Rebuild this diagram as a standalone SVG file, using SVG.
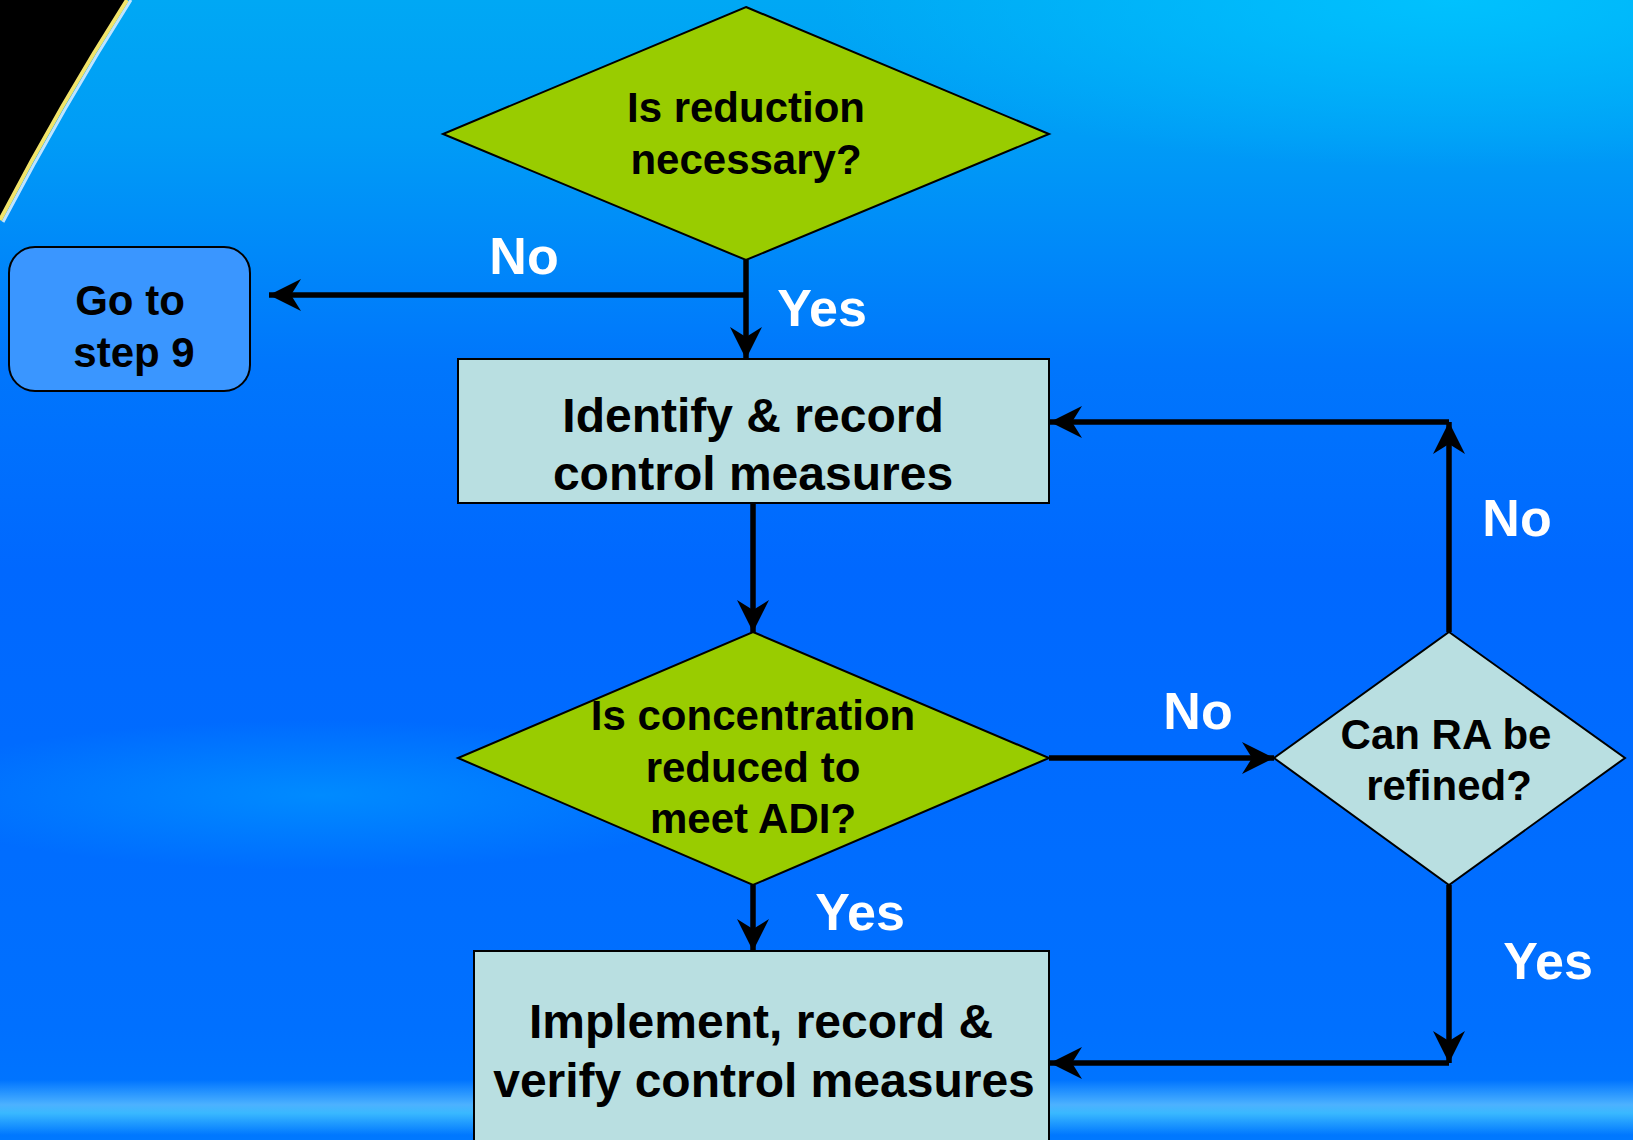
<svg xmlns="http://www.w3.org/2000/svg" width="1633" height="1140" viewBox="0 0 1633 1140">
  <defs>
    <linearGradient id="bg" x1="0" y1="0" x2="0" y2="1">
      <stop offset="0" stop-color="#00A8F4"/>
      <stop offset="0.12" stop-color="#009CF6"/>
      <stop offset="0.32" stop-color="#0076FC"/>
      <stop offset="0.5" stop-color="#0068FF"/>
      <stop offset="0.9" stop-color="#0070FF"/>
      <stop offset="1" stop-color="#0078FF"/>
    </linearGradient>
    <radialGradient id="glowTR" cx="1450" cy="0" r="420" gradientUnits="userSpaceOnUse" gradientTransform="translate(1450 0) scale(1.5 0.4) translate(-1450 0)">
      <stop offset="0" stop-color="#00C4FF" stop-opacity="0.9"/>
      <stop offset="1" stop-color="#00C4FF" stop-opacity="0"/>
    </radialGradient>
    <radialGradient id="glowL" cx="320" cy="795" r="300" gradientUnits="userSpaceOnUse" gradientTransform="translate(320 795) scale(1.4 0.25) translate(-320 -795)">
      <stop offset="0" stop-color="#00A4FF" stop-opacity="0.55"/>
      <stop offset="1" stop-color="#00A4FF" stop-opacity="0"/>
    </radialGradient>
    <linearGradient id="band" x1="0" y1="0" x2="0" y2="1">
      <stop offset="0" stop-color="#55BBFF" stop-opacity="0"/>
      <stop offset="0.45" stop-color="#55B8FF" stop-opacity="0.9"/>
      <stop offset="0.6" stop-color="#40C0FF" stop-opacity="0.9"/>
      <stop offset="1" stop-color="#40C0FF" stop-opacity="0"/>
    </linearGradient>
    <marker id="arr" markerUnits="userSpaceOnUse" viewBox="0 0 32 32" markerWidth="32" markerHeight="32" refX="32" refY="16" orient="auto">
      <path d="M0,0 L32,16 L0,32 L10,16 Z" fill="#000"/>
    </marker>
    <style>
      .conn { fill: none; stroke: #000; stroke-width: 5.5; marker-end: url(#arr); }
      .dg { fill: #99CC00; stroke: #000; stroke-width: 2; }
      .dc { fill: #B9DFE1; stroke: #000; stroke-width: 2; }
      .bx { fill: #B9DFE1; stroke: #000; stroke-width: 2; }
      .go { fill: #3A96FF; stroke: #000; stroke-width: 2; }
      .t42 { font-family: "Liberation Sans", Arial, sans-serif; font-weight: bold; font-size: 42px; fill: #000; text-anchor: middle; }
      .t48 { font-family: "Liberation Sans", Arial, sans-serif; font-weight: bold; font-size: 48px; fill: #000; text-anchor: middle; }
      .lbl { font-family: "Liberation Sans", Arial, sans-serif; font-weight: bold; font-size: 52px; fill: #FFF; text-anchor: middle; }
    </style>
  </defs>

  <!-- background -->
  <rect x="0" y="0" width="1633" height="1140" fill="url(#bg)"/>
  <rect x="0" y="0" width="1633" height="500" fill="url(#glowTR)"/>
  <rect x="0" y="650" width="900" height="300" fill="url(#glowL)"/>
  <rect x="0" y="1080" width="1633" height="55" fill="url(#band)"/>
  <path d="M0,0 H127 Q60,105 0,220 Z" fill="#000"/>
  <path d="M131,0 Q64,106 3,222" fill="none" stroke="#BFE4FF" stroke-width="3"/>
  <path d="M127,0 Q60,105 0,220" fill="none" stroke="#F2E46A" stroke-width="4"/>

  <!-- nodes -->
  <g id="n-reduction">
    <polygon class="dg" points="746,7 1049,134 746,260 443,134"/>
    <text class="t42" x="746" y="122">Is reduction</text>
    <text class="t42" x="746" y="174">necessary?</text>
  </g>
  <g id="n-goto9">
    <rect class="go" x="9" y="247" width="241" height="144" rx="26" ry="26"/>
    <text class="t42" x="130" y="315">Go to</text>
    <text class="t42" x="134" y="367">step 9</text>
  </g>
  <g id="n-identify">
    <rect class="bx" x="458" y="359" width="591" height="144"/>
    <text class="t48" x="753" y="432">Identify &amp; record</text>
    <text class="t48" x="753" y="490">control measures</text>
  </g>
  <g id="n-concentration">
    <polygon class="dg" points="753,632 1049,758 753,885 458,758"/>
    <text class="t42" x="753" y="730">Is concentration</text>
    <text class="t42" x="753" y="782">reduced to</text>
    <text class="t42" x="753" y="833">meet ADI?</text>
  </g>
  <g id="n-refine">
    <polygon class="dc" points="1449,632 1625,758 1449,885 1274,758"/>
    <text class="t42" x="1446" y="749">Can RA be</text>
    <text class="t42" x="1449" y="800">refined?</text>
  </g>
  <g id="n-implement">
    <rect class="bx" x="474" y="951" width="575" height="200"/>
    <text class="t48" x="761" y="1038">Implement, record &amp;</text>
    <text class="t48" x="764" y="1097">verify control measures</text>
  </g>

  <!-- connectors -->
  <g id="connectors">
    <path class="conn" d="M746,260 V359"/>
    <path class="conn" d="M746,295 H269"/>
    <path class="conn" d="M753,503 V632"/>
    <path class="conn" d="M753,885 V951"/>
    <path class="conn" d="M1049,758 H1274"/>
    <path class="conn" d="M1449,632 V422"/>
    <path class="conn" d="M1449,422 H1050"/>
    <path class="conn" d="M1449,885 V1063"/>
    <path class="conn" d="M1449,1063 H1050"/>
    <text class="lbl" x="524" y="274">No</text>
    <text class="lbl" x="822" y="326">Yes</text>
    <text class="lbl" x="1198" y="729">No</text>
    <text class="lbl" x="1517" y="536">No</text>
    <text class="lbl" x="860" y="930">Yes</text>
    <text class="lbl" x="1548" y="979">Yes</text>
  </g>
</svg>
